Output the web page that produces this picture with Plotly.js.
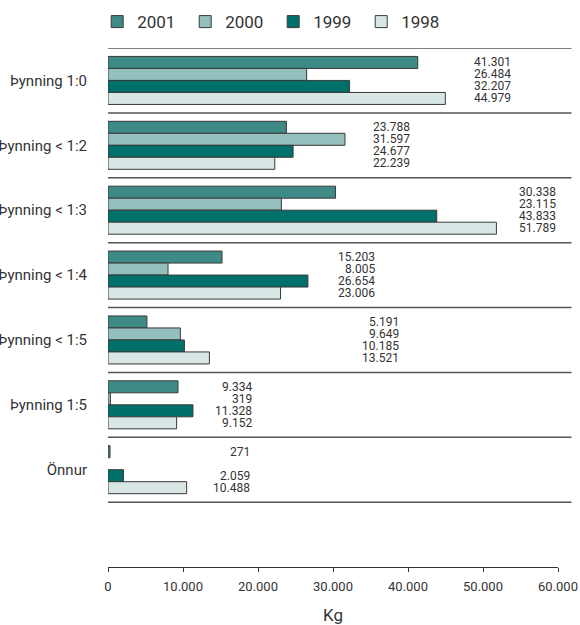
<!DOCTYPE html>
<html>
<head>
<meta charset="utf-8">
<script src="https://cdn.plot.ly/plotly-3.0.1.min.js"></script>
<style>html,body{margin:0;padding:0;background:#fff}#chart{width:580px;height:625px}</style>
</head>
<body>
<div id="chart"></div>
<script>
// Data
const categories = ["Þynning 1:0", "Þynning < 1:2", "Þynning < 1:3", "Þynning < 1:4", "Þynning < 1:5", "Þynning 1:5", "Önnur"];
const years = ["2001", "2000", "1999", "1998"];
const v2001 = [41301, 23788, 30338, 15203, 5191, 9334, 271];
const v2000 = [26484, 31597, 23115, 8005, 9649, 319, null];
const v1999 = [32207, 24677, 43833, 26654, 10185, 11328, 2059];
const v1998 = [44979, 22239, 51789, 23006, 13521, 9152, 10488];
// right edge of the value-label column per group (in Kg units)
const labelPos = [54000, 40500, 60000, 35800, 39000, 19400, 19200];

const series = [v2001, v2000, v1999, v1998];
const colors = ["#3e8a86", "#93bfbd", "#00706a", "#d8e6e6"];
const bargap = 0.26;

const traces = series.map((vals, i) => ({
  type: 'bar',
  orientation: 'h',
  name: years[i],
  y: categories,
  x: vals,
  marker: {color: colors[i], line: {color: '#3a3a3a', width: 1}},
  hoverinfo: 'x+name'
}));

function fmt(n) {
  return String(n).replace(/\B(?=(\d{3})+(?!\d))/g, '.');
}

const annotations = [];
const bw = (1 - bargap) / series.length;
series.forEach((vals, i) => {
  vals.forEach((v, g) => {
    if (v === null) return;
    annotations.push({
      x: labelPos[g], y: g + (i - (series.length - 1) / 2) * bw,
      xref: 'x', yref: 'y', text: fmt(v), showarrow: false,
      xanchor: 'right', yanchor: 'middle',
      font: {size: 12, color: '#333', family: 'Roboto, sans-serif'}
    });
  });
});

const shapes = [];
for (let k = -1; k < categories.length; k++) {
  shapes.push({
    type: 'line', xref: 'paper', yref: 'y',
    x0: 0, x1: 1.03, y0: k + 0.5, y1: k + 0.5,
    line: {color: '#555', width: 1.5}
  });
}

const layout = {
  width: 580, height: 625,
  margin: {l: 108, r: 22, t: 48, b: 58, autoexpand: false},
  paper_bgcolor: '#fff', plot_bgcolor: '#fff',
  separators: ',.',
  font: {family: 'Roboto, sans-serif', color: '#333'},
  barmode: 'group', bargap: bargap, bargroupgap: 0,
  showlegend: true,
  legend: {
    orientation: 'h', x: -0.024, xanchor: 'left', y: 1.05, yanchor: 'middle',
    font: {size: 17, color: '#333'}, entrywidth: 43, entrywidthmode: 'pixels',
    traceorder: 'normal', bgcolor: 'rgba(0,0,0,0)'
  },
  xaxis: {
    range: [0, 60000], tickvals: [0, 10000, 20000, 30000, 40000, 50000, 60000],
    tickformat: ',d', showgrid: false, zeroline: false,
    showline: true, linecolor: '#333', linewidth: 1,
    ticks: 'outside', ticklen: 4, tickcolor: '#333', ticklabelstandoff: 3,
    tickfont: {size: 13, color: '#333'},
    title: {text: 'Kg', font: {size: 17, color: '#333'}, standoff: 18},
    fixedrange: true
  },
  yaxis: {
    type: 'category', range: [7.5, -0.5], showgrid: false, zeroline: false,
    showline: false, ticks: '', ticklabelstandoff: 20, automargin: false,
    tickfont: {size: 15, color: '#333'}, fixedrange: true
  },
  annotations: annotations,
  shapes: shapes
};

Plotly.newPlot('chart', traces, layout, {displayModeBar: false, staticPlot: true});
</script>
</body>
</html>
